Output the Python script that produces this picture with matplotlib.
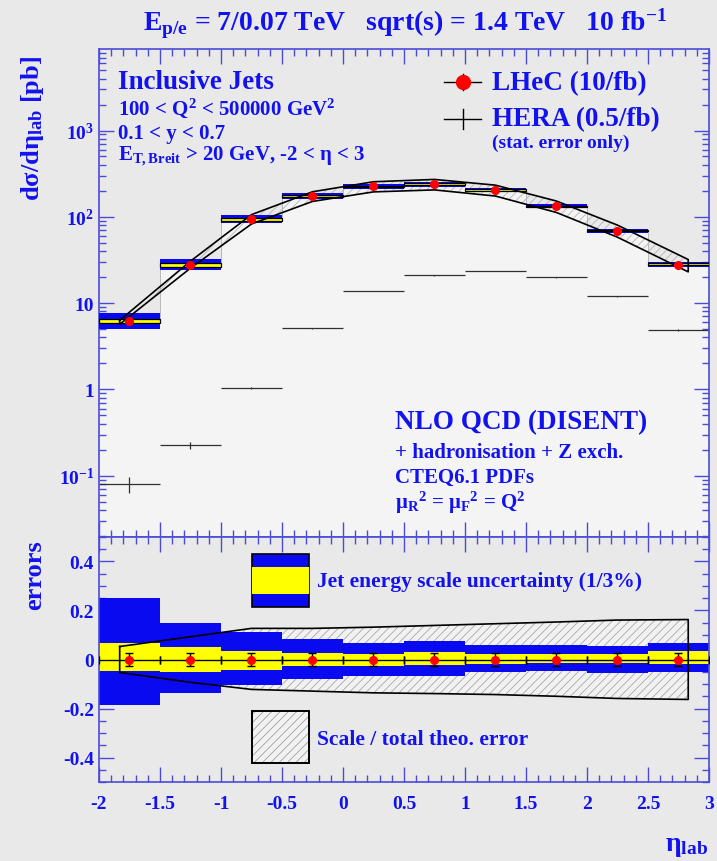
import numpy as np
import matplotlib
matplotlib.use("Agg")
import matplotlib.pyplot as plt
from matplotlib.patches import Rectangle
from matplotlib.ticker import LogLocator, NullFormatter, MultipleLocator

plt.rcParams['font.family'] = ['Liberation Serif', 'DejaVu Serif']
plt.rcParams['font.weight'] = 'bold'
plt.rcParams['axes.labelweight'] = 'bold'
plt.rcParams['mathtext.fontset'] = 'custom'
plt.rcParams['mathtext.rm'] = 'Liberation Serif:bold'
plt.rcParams['mathtext.it'] = 'Liberation Serif:bold'
plt.rcParams['mathtext.bf'] = 'Liberation Serif:bold'
plt.rcParams['mathtext.default'] = 'regular'
plt.rcParams['axes.unicode_minus'] = False
plt.rcParams['hatch.linewidth'] = 0.6

# dane
bin_edges = [-2.0, -1.5, -1.0, -0.5, 0.0, 0.5, 1.0, 1.5, 2.0, 2.5, 3.0]
eta_centers = [-1.75, -1.25, -0.75, -0.25, 0.25, 0.75, 1.25, 1.75, 2.25, 2.75]
lhec_xsec = [6.2, 28.0, 94.0, 173.0, 225.0, 238.0, 203.0, 132.0, 69.0, 28.0]
lhec_stat = [0.028, 0.028, 0.028, 0.028, 0.028, 0.028, 0.028, 0.028, 0.028, 0.028]
hera_xsec = [0.080, 0.225, 1.03, 5.1, 13.8, 21.0, 23.5, 20.0, 12.0, 4.9]
hera_stat = [0.21, 0.10, 0.03, 0.015, 0.01, 0.008, 0.008, 0.01, 0.012, 0.02]

# niepewnosc skali energii jetow (3% niebieski, 1% zolty), wzgledna
jes3_up = [0.249, 0.151, 0.114, 0.082, 0.069, 0.075, 0.061, 0.061, 0.054, 0.068]
jes3_dn = [0.184, 0.135, 0.106, 0.078, 0.068, 0.068, 0.052, 0.048, 0.057, 0.052]
jes1_up = [0.069, 0.052, 0.034, 0.027, 0.024, 0.030, 0.024, 0.024, 0.022, 0.033]
jes1_dn = [0.045, 0.052, 0.041, 0.027, 0.027, 0.024, 0.020, 0.014, 0.016, 0.020]

# pasmo teorii
theo_eta = [-1.83, -1.25, -0.75, -0.25, 0.25, 0.75, 1.25, 1.75, 2.25, 2.83]
theo_xsec = [6.0, 28.0, 94.0, 173.0, 225.0, 238.0, 203.0, 132.0, 69.0, 27.5]
theo_up = [0.053, 0.093, 0.127, 0.127, 0.132, 0.139, 0.146, 0.153, 0.161, 0.163]
theo_dn = [0.053, 0.093, 0.122, 0.129, 0.136, 0.139, 0.143, 0.150, 0.159, 0.163]

x_ticks = [-2, -1.5, -1, -0.5, 0, 0.5, 1, 1.5, 2, 2.5, 3]
x_labels = ['-2', '-1.5', '-1', '-0.5', '0', '0.5', '1', '1.5', '2', '2.5', '3']
y_ticks = [0.1, 1, 10, 100, 1000]
y_labels = ['$10^{-1}$', '1', '10', '$10^{2}$', '$10^{3}$']
err_ticks = [-0.4, -0.2, 0, 0.2, 0.4]
err_labels = ['-0.4', '-0.2', '0', '0.2', '0.4']

txt = '#1212ee'
axc = '#4b4bd8'
blue = '#0a0af0'
yellow = '#ffff00'
bg = '#e9e9e9'
light = '#f4f4f4'

fig = plt.figure(figsize=(7.17, 8.62), dpi=100)
fig.patch.set_facecolor(bg)
ax1 = fig.add_axes([0.138, 0.3759, 0.8508, 0.5661])
ax2 = fig.add_axes([0.138, 0.0916, 0.8508, 0.2843])

lhec = np.array(lhec_xsec)
hera = np.array(hera_xsec)
th = np.array(theo_xsec)
th_hi = th * (1 + np.array(theo_up))
th_lo = th * (1 - np.array(theo_dn))

# ---- gorny panel ----
ax1.set_facecolor(bg)
ax1.stairs(lhec, bin_edges, baseline=1e-3, fill=True, color=light, zorder=1)
ax1.stairs(lhec, bin_edges, baseline=None, color='#b8b8b8', lw=0.7, zorder=1.5)

ax1.errorbar(eta_centers, hera, xerr=0.25, yerr=hera * np.array(hera_stat),
             fmt='none', ecolor='#303030', elinewidth=0.9, zorder=2)

ax1.fill_between(theo_eta, th_lo, th_hi, facecolor='none', edgecolor='#b5b5b5',
                 hatch='////', lw=0, zorder=2.5)

ax1.bar(eta_centers, lhec * (np.array(jes3_up) + np.array(jes3_dn)), width=0.5,
        bottom=lhec * (1 - np.array(jes3_dn)), color=blue, zorder=3)
ax1.bar(eta_centers, lhec * (np.array(jes1_up) + np.array(jes1_dn)), width=0.5,
        bottom=lhec * (1 - np.array(jes1_dn)), color=yellow, edgecolor='black',
        lw=0.9, zorder=3.5)

poly_x = list(theo_eta) + list(theo_eta[::-1]) + [theo_eta[0]]
poly_y = list(th_hi) + list(th_lo[::-1]) + [th_hi[0]]
ax1.plot(poly_x, poly_y, color='black', lw=1.2, zorder=4)

ax1.errorbar(eta_centers, lhec, yerr=lhec * np.array(lhec_stat), fmt='o', color='red',
             ms=5.5, ecolor='black', elinewidth=0.8, zorder=5)

ax1.set_yscale('log')
ax1.set_xlim(-2, 3)
ax1.set_ylim(0.0195, 8800)
ax1.set_xticks(x_ticks)
ax1.set_xticklabels([])
ax1.xaxis.set_minor_locator(MultipleLocator(0.1))
ax1.set_yticks(y_ticks, y_labels)
ax1.yaxis.set_minor_locator(LogLocator(base=10, subs=np.arange(2, 10)))
ax1.yaxis.set_minor_formatter(NullFormatter())
ax1.set_ylabel(r'd$\sigma$/d$\eta_{lab}$ [pb]', color=txt, fontsize=19)
ax1.yaxis.set_label_coords(-0.086, 0.84)

ax1.text(0.031, 0.934, 'Inclusive Jets', transform=ax1.transAxes, color=txt,
         fontsize=19.5, va='center', ha='left')
ax1.text(0.031, 0.881, r'100 < Q$^{2}$ < 500000 GeV$^{2}$', transform=ax1.transAxes,
         color=txt, fontsize=15, va='center', ha='left')
ax1.text(0.031, 0.828, '0.1 < y < 0.7', transform=ax1.transAxes, color=txt,
         fontsize=15, va='center', ha='left')
ax1.text(0.031, 0.781, r'E$_{T,Breit}$ > 20 GeV, -2 < η < 3', transform=ax1.transAxes,
         color=txt, fontsize=15, va='center', ha='left')

# legenda
ax1.plot([0.565, 0.627], [0.932, 0.932], transform=ax1.transAxes, color='black', lw=1)
ax1.plot([0.596, 0.596], [0.915, 0.949], transform=ax1.transAxes, color='black', lw=1)
ax1.plot([0.596], [0.932], 'o', transform=ax1.transAxes, color='red', ms=10)
ax1.plot([0.565, 0.627], [0.857, 0.857], transform=ax1.transAxes, color='black', lw=1)
ax1.plot([0.596, 0.596], [0.837, 0.877], transform=ax1.transAxes, color='black', lw=1)
ax1.text(0.644, 0.932, 'LHeC (10/fb)', transform=ax1.transAxes, color=txt,
         fontsize=19.5, va='center', ha='left')
ax1.text(0.644, 0.857, 'HERA (0.5/fb)', transform=ax1.transAxes, color=txt,
         fontsize=19.5, va='center', ha='left')
ax1.text(0.644, 0.809, '(stat. error only)', transform=ax1.transAxes, color=txt,
         fontsize=14, va='center', ha='left')

ax1.text(0.485, 0.236, 'NLO QCD (DISENT)', transform=ax1.transAxes, color=txt,
         fontsize=19.5, va='center', ha='left')
ax1.text(0.485, 0.174, '+ hadronisation + Z exch.', transform=ax1.transAxes, color=txt,
         fontsize=15, va='center', ha='left')
ax1.text(0.485, 0.123, 'CTEQ6.1 PDFs', transform=ax1.transAxes, color=txt,
         fontsize=15, va='center', ha='left')
ax1.text(0.485, 0.072, r'$\mu_{R}{}^{2}$ = $\mu_{F}{}^{2}$ = Q$^{2}$', transform=ax1.transAxes,
         color=txt, fontsize=15, va='center', ha='left')

# ---- dolny panel ----
ax2.set_facecolor(bg)
t_up = np.array(theo_up)
t_dn = -np.array(theo_dn)
ax2.fill_between(theo_eta, t_dn, t_up, facecolor='#f2f2f2', edgecolor='#a8a8a8',
                 hatch='////', lw=0, zorder=1)
ax2.bar(eta_centers, np.array(jes3_up) + np.array(jes3_dn), width=0.5,
        bottom=-np.array(jes3_dn), color=blue, zorder=2)
ax2.bar(eta_centers, np.array(jes1_up) + np.array(jes1_dn), width=0.5,
        bottom=-np.array(jes1_dn), color=yellow, zorder=2.5)
poly_y2 = list(t_up) + list(t_dn[::-1]) + [t_up[0]]
ax2.plot(poly_x, poly_y2, color='black', lw=1.2, zorder=3)
ax2.errorbar(eta_centers, np.zeros(len(eta_centers)), xerr=0.25, yerr=lhec_stat,
             fmt='o', color='red', ms=5.5, ecolor='black', elinewidth=1.0,
             capsize=3, capthick=1.0, zorder=4)

ax2.set_xlim(-2, 3)
ax2.set_ylim(-0.5, 0.5)
ax2.set_xticks(x_ticks, x_labels)
ax2.xaxis.set_minor_locator(MultipleLocator(0.1))
ax2.set_yticks(err_ticks, err_labels)
ax2.yaxis.set_minor_locator(MultipleLocator(0.05))
ax2.set_ylabel('errors', color=txt, fontsize=19)
ax2.yaxis.set_label_coords(-0.086, 0.85)

# legenda dolnego panelu
ax2.add_patch(Rectangle((0.251, 0.714), 0.093, 0.217, transform=ax2.transAxes,
                        facecolor=blue, edgecolor='black', lw=1.2, zorder=5))
ax2.add_patch(Rectangle((0.251, 0.767), 0.093, 0.111, transform=ax2.transAxes,
                        facecolor=yellow, edgecolor='none', zorder=5.5))
ax2.add_patch(Rectangle((0.251, 0.078), 0.093, 0.212, transform=ax2.transAxes,
                        facecolor='#f2f2f2', edgecolor='#a0a0a0', hatch='////',
                        lw=0, zorder=5))
ax2.add_patch(Rectangle((0.251, 0.078), 0.093, 0.212, transform=ax2.transAxes,
                        facecolor='none', edgecolor='black', lw=1.4, zorder=5.5))
ax2.text(0.357, 0.82, 'Jet energy scale uncertainty (1/3%)', transform=ax2.transAxes,
         color=txt, fontsize=15.5, va='center', ha='left')
ax2.text(0.357, 0.176, 'Scale / total theo. error', transform=ax2.transAxes,
         color=txt, fontsize=15.5, va='center', ha='left')

for ax in (ax1, ax2):
    for s in ax.spines.values():
        s.set_color(axc)
        s.set_linewidth(1.2)
    ax.tick_params(which='both', direction='in', top=True, right=True, color=axc,
                   labelcolor=txt, labelsize=14, width=1)
    ax.tick_params(which='major', length=11)
    ax.tick_params(which='minor', length=5)
ax2.tick_params(axis='x', pad=9)

fig.text(0.565, 0.972, r'E$_{p/e}$ = 7/0.07 TeV   sqrt(s) = 1.4 TeV   10 fb$^{-1}$',
         color=txt, fontsize=20, ha='center', va='center')
fig.text(0.957, 0.018, r'$\eta_{lab}$', color=txt, fontsize=20, ha='center', va='center')

fig.savefig('out.png', dpi=100, facecolor=bg)
